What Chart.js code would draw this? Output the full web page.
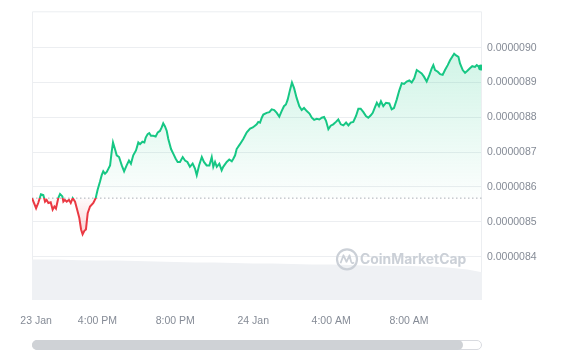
<!DOCTYPE html>
<html>
<head>
<meta charset="utf-8">
<script src="https://cdn.jsdelivr.net/npm/chart.js@4.4.1/dist/chart.umd.min.js"></script>
<style>
html, body { margin: 0; padding: 0; background: #fff; }
#wrap { position: relative; width: 565px; height: 352px; }
#scroll { position: absolute; left: 32px; top: 340px; width: 448px; height: 8px; border: 1px solid #d9dbe0; border-radius: 5px; background: #fff; }
#thumb { position: absolute; left: -1px; top: -1px; width: 431px; height: 10px; border-radius: 5px; background: #cfd2d6; }
</style>
</head>
<body>
<div id="wrap">
  <canvas id="chart" width="565" height="352"></canvas>
  <div id="scroll"><div id="thumb"></div></div>
</div>
<script>
// hours since 23 Jan 00:00
const times = [
  12.64, 12.85, 12.96, 13.10, 13.22, 13.31, 13.39, 13.48, 13.60, 13.70, 13.79, 13.87, 13.99, 14.08, 14.20, 14.25,
  14.33, 14.42, 14.54, 14.63, 14.73, 14.85, 14.94, 15.07, 15.16, 15.24, 15.33, 15.41, 15.50, 15.62, 15.79, 15.91,
  16.01, 16.13, 16.22, 16.30, 16.39, 16.48, 16.56, 16.65, 16.73, 16.80, 16.90, 16.99, 17.11, 17.25, 17.37, 17.50,
  17.62, 17.72, 17.84, 17.98, 18.10, 18.19, 18.31, 18.41, 18.48, 18.58, 18.66, 18.75, 18.87, 18.99, 19.10, 19.21,
  19.30, 19.38, 19.47, 19.56, 19.64, 19.78, 19.90, 20.02, 20.12, 20.24, 20.38, 20.50, 20.62, 20.75, 20.89, 21.01,
  21.10, 21.22, 21.36, 21.47, 21.61, 21.75, 21.87, 21.95, 22.04, 22.13, 22.26, 22.38, 22.46, 22.64, 22.77, 22.90,
  22.98, 23.07, 23.15, 23.32, 23.49, 23.67, 23.84, 23.98, 24.09, 24.18, 24.26, 24.35, 24.44, 24.52, 24.69, 24.83,
  24.95, 25.08, 25.21, 25.34, 25.46, 25.58, 25.68, 25.77, 25.89, 25.99, 26.10, 26.23, 26.37, 26.49, 26.61, 26.75,
  26.89, 27.01, 27.13, 27.26, 27.40, 27.52, 27.64, 27.74, 27.86, 27.98, 28.11, 28.25, 28.37, 28.50, 28.63, 28.77,
  28.89, 29.01, 29.14, 29.28, 29.40, 29.52, 29.66, 29.79, 29.91, 30.04, 30.14, 30.26, 30.35, 30.46, 30.56, 30.68,
  30.82, 30.99, 31.11, 31.23, 31.37, 31.50, 31.63, 31.75, 31.88, 32.02, 32.14, 32.27, 32.40, 32.53, 32.65, 32.77,
  32.91, 33.05, 33.17, 33.25, 33.34, 33.48, 33.60, 33.73, 33.85, 33.99, 34.11, 34.23, 34.32, 34.42, 34.54, 34.62,
  34.76, 34.88, 35.00, 35.13, 35.25, 35.39, 35.48, 35.60, 35.70
];
const prices = [
  8.568e-6, 8.539e-6, 8.554e-6, 8.579e-6, 8.577e-6, 8.558e-6, 8.563e-6, 8.554e-6, 8.556e-6, 8.535e-6, 8.544e-6, 8.538e-6, 8.568e-6, 8.580e-6, 8.573e-6, 8.558e-6,
  8.563e-6, 8.558e-6, 8.563e-6, 8.554e-6, 8.568e-6, 8.558e-6, 8.539e-6, 8.511e-6, 8.478e-6, 8.464e-6, 8.474e-6, 8.478e-6, 8.525e-6, 8.544e-6, 8.554e-6, 8.568e-6,
  8.592e-6, 8.615e-6, 8.634e-6, 8.645e-6, 8.638e-6, 8.643e-6, 8.652e-6, 8.662e-6, 8.700e-6, 8.728e-6, 8.709e-6, 8.691e-6, 8.686e-6, 8.662e-6, 8.645e-6, 8.662e-6,
  8.676e-6, 8.667e-6, 8.691e-6, 8.705e-6, 8.728e-6, 8.723e-6, 8.730e-6, 8.728e-6, 8.742e-6, 8.752e-6, 8.755e-6, 8.747e-6, 8.747e-6, 8.745e-6, 8.757e-6, 8.761e-6,
  8.771e-6, 8.783e-6, 8.774e-6, 8.761e-6, 8.738e-6, 8.709e-6, 8.695e-6, 8.681e-6, 8.672e-6, 8.672e-6, 8.686e-6, 8.676e-6, 8.672e-6, 8.658e-6, 8.667e-6, 8.653e-6,
  8.634e-6, 8.662e-6, 8.686e-6, 8.672e-6, 8.662e-6, 8.662e-6, 8.686e-6, 8.658e-6, 8.672e-6, 8.658e-6, 8.667e-6, 8.648e-6, 8.658e-6, 8.672e-6, 8.679e-6, 8.674e-6,
  8.681e-6, 8.691e-6, 8.709e-6, 8.723e-6, 8.738e-6, 8.757e-6, 8.768e-6, 8.771e-6, 8.776e-6, 8.780e-6, 8.787e-6, 8.785e-6, 8.799e-6, 8.808e-6, 8.813e-6, 8.815e-6,
  8.823e-6, 8.821e-6, 8.813e-6, 8.802e-6, 8.818e-6, 8.832e-6, 8.837e-6, 8.851e-6, 8.879e-6, 8.900e-6, 8.884e-6, 8.856e-6, 8.832e-6, 8.821e-6, 8.827e-6, 8.818e-6,
  8.811e-6, 8.799e-6, 8.793e-6, 8.796e-6, 8.794e-6, 8.799e-6, 8.801e-6, 8.790e-6, 8.766e-6, 8.776e-6, 8.780e-6, 8.787e-6, 8.794e-6, 8.780e-6, 8.777e-6, 8.785e-6,
  8.777e-6, 8.785e-6, 8.787e-6, 8.804e-6, 8.825e-6, 8.825e-6, 8.815e-6, 8.804e-6, 8.799e-6, 8.806e-6, 8.813e-6, 8.830e-6, 8.842e-6, 8.832e-6, 8.846e-6, 8.832e-6,
  8.842e-6, 8.840e-6, 8.823e-6, 8.827e-6, 8.851e-6, 8.877e-6, 8.898e-6, 8.896e-6, 8.903e-6, 8.906e-6, 8.900e-6, 8.912e-6, 8.936e-6, 8.931e-6, 8.926e-6, 8.917e-6,
  8.903e-6, 8.922e-6, 8.941e-6, 8.950e-6, 8.936e-6, 8.931e-6, 8.924e-6, 8.922e-6, 8.936e-6, 8.950e-6, 8.964e-6, 8.975e-6, 8.983e-6, 8.978e-6, 8.974e-6, 8.955e-6,
  8.936e-6, 8.928e-6, 8.934e-6, 8.941e-6, 8.947e-6, 8.945e-6, 8.950e-6, 8.945e-6, 8.943e-6
];

// volume strip at the bottom (relative height, hidden axis)
const volTimes = [12.64, 13, 14, 15, 16, 17, 18, 19, 20, 21, 22, 23, 24, 25, 26, 27, 28, 29, 30, 31, 32, 33, 34, 35, 35.75];
const volumes = [14.0, 14.0, 14.0, 13.8, 13.7, 13.7, 13.5, 13.3, 13.2, 13.0, 13.0, 12.8, 12.6, 12.6, 12.5, 12.3, 12.3, 12.1, 11.9, 11.9, 11.8, 11.6, 11.3, 10.6, 9.6];

const xTickHours = [12.85, 16, 20, 24, 28, 32];
const xTickLabels = ['23 Jan', '4:00 PM', '8:00 PM', '24 Jan', '4:00 AM', '8:00 AM'];
const yTicks = [0.0000084, 0.0000085, 0.0000086, 0.0000087, 0.0000088, 0.0000089, 0.0000090];

const baseline = prices[0];
const green = '#16c784';
const red = '#ea3943';
const gridColor = '#eceef1';
const labelFont = { family: 'Liberation Sans, Arial, sans-serif', size: 10.5 };

const pricePoints = times.map((t, i) => ({ x: t, y: prices[i] }));
const volPoints = volTimes.map((t, i) => ({ x: t, y: volumes[i] }));

// colours depend on where the baseline lands, so build them after layout
const paint = {
    id: 'paint',
    afterLayout(chart) {
        const { ctx, chartArea: a, scales: { y } } = chart;
        const by = y.getPixelForValue(baseline);
        const f = (by - a.top) / (a.bottom - a.top);
        const stroke = ctx.createLinearGradient(0, a.top, 0, a.bottom);
        stroke.addColorStop(0, green);
        stroke.addColorStop(f, green);
        stroke.addColorStop(f, red);
        stroke.addColorStop(1, red);

        const topY = y.getPixelForValue(Math.max(...prices));
        const up = ctx.createLinearGradient(0, topY, 0, by);
        up.addColorStop(0, 'rgba(22,199,132,0.20)');
        up.addColorStop(1, 'rgba(22,199,132,0.01)');

        const lowY = y.getPixelForValue(Math.min(...prices));
        const down = ctx.createLinearGradient(0, by, 0, lowY);
        down.addColorStop(0, 'rgba(234,57,67,0.02)');
        down.addColorStop(1, 'rgba(234,57,67,0.22)');

        const ds = chart.data.datasets[0];
        ds.borderColor = stroke;
        ds.fill = { target: { value: baseline }, above: up, below: down };
    },
    beforeDatasetsDraw(chart) {
        const { ctx, chartArea: a } = chart;
        ctx.save();
        ctx.strokeStyle = gridColor;
        ctx.lineWidth = 1;
        ctx.beginPath();
        ctx.moveTo(a.left + 0.5, a.bottom);
        ctx.lineTo(a.left + 0.5, a.top + 0.5);
        ctx.lineTo(a.right - 0.5, a.top + 0.5);
        ctx.lineTo(a.right - 0.5, a.bottom);
        ctx.stroke();
        ctx.restore();
    },
    afterDatasetsDraw(chart) {
        // watermark
        const { ctx, chartArea: a } = chart;
        const cx = a.right - 135, cy = a.top + 248;
        ctx.save();
        ctx.strokeStyle = '#cbd0d7';
        ctx.fillStyle = '#cbd0d7';
        ctx.lineWidth = 2.2;
        ctx.beginPath();
        ctx.arc(cx, cy, 10, 0, Math.PI * 2);
        ctx.stroke();
        ctx.lineWidth = 1.8;
        ctx.lineJoin = 'round';
        ctx.beginPath();
        ctx.moveTo(cx - 6.5, cy + 4);
        ctx.lineTo(cx - 3.5, cy - 4);
        ctx.lineTo(cx - 0.5, cy + 2.5);
        ctx.lineTo(cx + 2.5, cy - 4);
        ctx.lineTo(cx + 4, cy + 2);
        ctx.quadraticCurveTo(cx + 5, cy + 5, cx + 7, cy + 3);
        ctx.stroke();
        ctx.font = 'bold 15px Inter, sans-serif';
        const w = ctx.measureText('CoinMarketCap').width;
        const size = 15 * 106 / w;
        ctx.font = 'bold ' + size.toFixed(1) + 'px Inter, sans-serif';
        ctx.textBaseline = 'middle';
        ctx.fillText('CoinMarketCap', cx + 13, cy + 0.5);
        ctx.restore();
    }
};

new Chart(document.getElementById('chart'), {
    type: 'line',
    data: {
        datasets: [
            {
                label: 'Price',
                data: pricePoints,
                borderColor: green,
                borderWidth: 2,
                tension: 0,
                pointRadius: (c) => c.dataIndex === prices.length - 1 ? 3 : 0,
                pointBackgroundColor: green,
                pointBorderWidth: 0,
                fill: { target: { value: baseline } },
                order: 1
            },
            {
                label: 'Baseline',
                data: [{ x: times[0], y: baseline }, { x: 35.75, y: baseline }],
                borderColor: '#a9aeb6',
                borderWidth: 1,
                borderDash: [1.5, 2.5],
                pointRadius: 0,
                fill: false,
                order: 2
            },
            {
                label: 'Volume',
                data: volPoints,
                yAxisID: 'yv',
                borderWidth: 0,
                backgroundColor: '#eff1f4',
                pointRadius: 0,
                fill: 'origin',
                order: 3
            }
        ]
    },
    options: {
        responsive: false,
        animation: false,
        layout: { padding: { left: 32, top: 7, right: 0, bottom: 0 } },
        plugins: { legend: { display: false }, tooltip: { enabled: false } },
        scales: {
            x: {
                type: 'linear',
                min: 12.64,
                max: 35.75,
                grid: { display: false, drawTicks: false },
                border: { display: false },
                afterBuildTicks: (scale) => { scale.ticks = xTickHours.map(v => ({ value: v })); },
                afterFit: (scale) => { scale.height = 52; },
                ticks: {
                    autoSkip: false,
                    maxRotation: 0,
                    padding: 15,
                    color: '#858b96',
                    font: labelFont,
                    callback: (v) => xTickLabels[xTickHours.indexOf(v)]
                }
            },
            y: {
                position: 'right',
                min: 0.0000082754,
                max: 0.0000091047,
                grid: { color: gridColor, drawTicks: false },
                border: { display: false },
                afterBuildTicks: (scale) => { scale.ticks = yTicks.map(v => ({ value: v })); },
                afterFit: (scale) => { scale.width = 83; },
                ticks: {
                    padding: 5,
                    color: '#858b96',
                    font: labelFont,
                    callback: (v) => v.toFixed(7)
                }
            },
            yv: {
                display: false,
                min: 0,
                max: 100
            }
        }
    },
    plugins: [paint]
});
</script>
</body>
</html>
